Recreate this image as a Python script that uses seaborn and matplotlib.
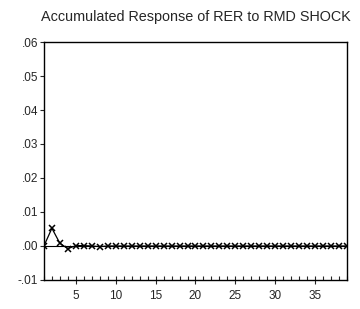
import numpy as np
import pandas as pd
import matplotlib
matplotlib.use("Agg")
import matplotlib.pyplot as plt
import seaborn as sns
from matplotlib.ticker import FixedLocator, MultipleLocator, FuncFormatter

# accumulated response, periods 1..39
periods = list(range(1, 40))
response = [0.0, 0.0052, 0.0008, -0.0008, 0.0001, 0.0001, 0.0, -0.0002] + [0.0] * 31
title = "Accumulated Response of RER to RMD SHOCK"
y_ticks = [-0.01, 0.0, 0.01, 0.02, 0.03, 0.04, 0.05, 0.06]
x_ticks = [5, 10, 15, 20, 25, 30, 35]

df = pd.DataFrame({"period": periods, "response": response})

sns.set_theme(style="white")
plt.rcParams["font.family"] = ["Liberation Sans", "DejaVu Sans"]

fig = plt.figure(figsize=(3.6, 3.09), dpi=100)
ax = fig.add_axes([0.122, 0.094, 0.842, 0.77])

ax.axhline(0, color="black", lw=0.8, zorder=1)
sns.lineplot(data=df, x="period", y="response", ax=ax, color="black", lw=0.9,
             marker="x", markersize=4, markeredgewidth=1.1, markeredgecolor="black")

ax.set_xlim(1, 39)
ax.set_ylim(-0.01, 0.06)
ax.set_xlabel("")
ax.set_ylabel("")
ax.set_title(title, fontsize=10.4, pad=15)

ax.xaxis.set_major_locator(FixedLocator(x_ticks))
ax.xaxis.set_minor_locator(MultipleLocator(1))
ax.yaxis.set_major_locator(FixedLocator(y_ticks))

def fmt(v, pos):
    s = f"{v:.2f}"
    return s.replace("0.", ".", 1)

ax.yaxis.set_major_formatter(FuncFormatter(fmt))
ax.tick_params(axis="x", which="major", direction="inout", length=6, width=0.8,
               labelsize=8.5, bottom=True, pad=4)
ax.tick_params(axis="x", which="minor", direction="in", length=3, width=0.8, bottom=True)
ax.tick_params(axis="y", which="major", direction="out", length=3, width=0.8,
               labelsize=8.5, left=True, pad=1)

for s in ax.spines.values():
    s.set_color("black")
    s.set_linewidth(1.0)

fig.savefig("out.png", dpi=100)
